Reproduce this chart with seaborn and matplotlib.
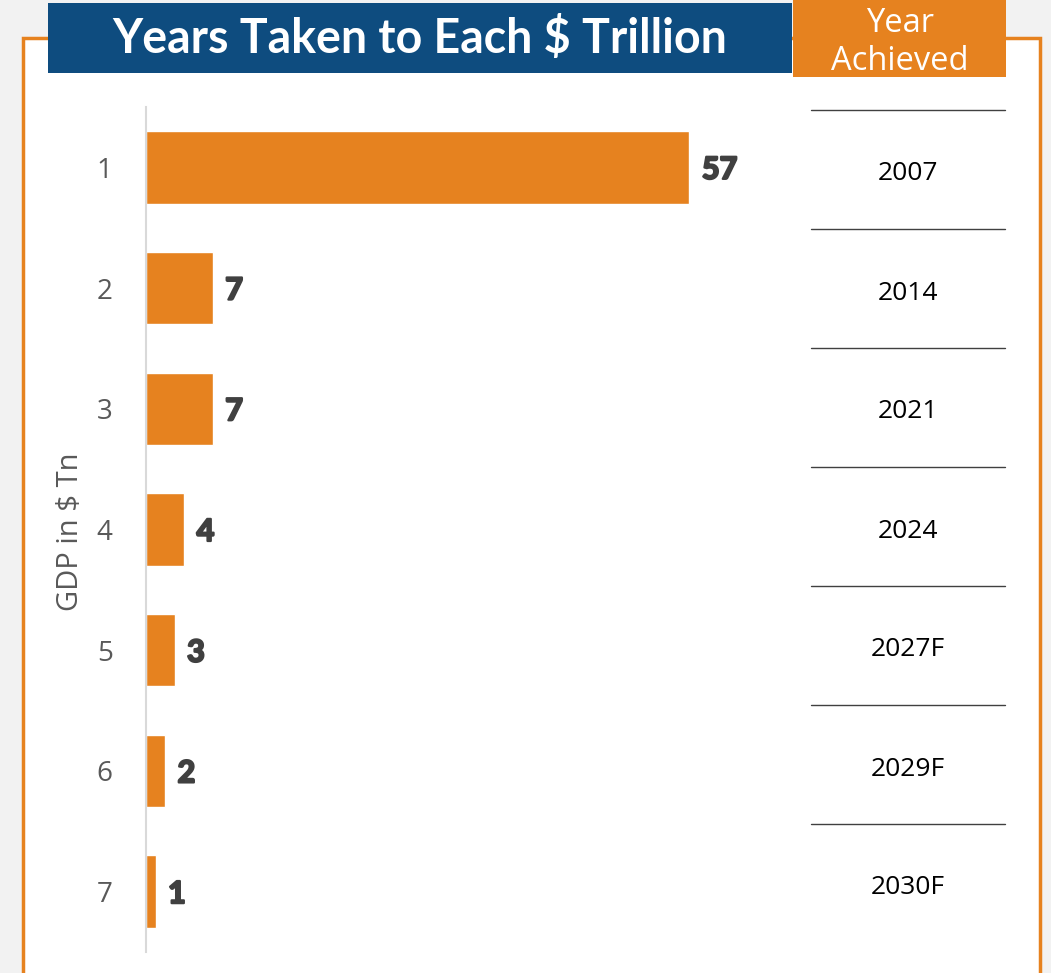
import pandas as pd
import matplotlib.pyplot as plt
import matplotlib.patheffects as pe
from matplotlib.patches import Rectangle
from matplotlib.lines import Line2D
import seaborn as sns

# data
gdp_tn = ["1", "2", "3", "4", "5", "6", "7"]
years_taken = [57, 7, 7, 4, 3, 2, 1]
year_achieved = ["2007", "2014", "2021", "2024", "2027F", "2029F", "2030F"]

df = pd.DataFrame({"gdp": gdp_tn, "years": years_taken})

orange = "#E6821F"
blue = "#0E4C7F"
grey = "#595959"

sns.set_theme(style="white")
plt.rcParams['font.family'] = ['Open Sans', 'DejaVu Sans']

W, H = 1051, 973
fig = plt.figure(figsize=(W / 100, H / 100), dpi=100, facecolor="#f2f2f2")

# white panel with orange border
fig.patches.append(Rectangle((23 / W, -0.05), (1040 - 23) / W, 1 - 38 / H + 0.05,
                             transform=fig.transFigure, facecolor="white",
                             edgecolor=orange, lw=2.5, zorder=0))
# title box
fig.patches.append(Rectangle((48 / W, 1 - 73 / H), (792 - 48) / W, 70 / H,
                             transform=fig.transFigure, facecolor=blue,
                             edgecolor="none", zorder=1))
fig.text(420 / W, 1 - 39 / H, "Years Taken to Each $ Trillion", color="white",
         fontsize=33.5, fontweight="bold", family=["Lato", "DejaVu Sans"],
         ha="center", va="center", zorder=2)
# header box for the year column
fig.patches.append(Rectangle((793 / W, 1 - 77 / H), (1006 - 793) / W, 80 / H,
                             transform=fig.transFigure, facecolor=orange,
                             edgecolor="none", zorder=1))
fig.text(900 / W, 1 - 42 / H, "Year\nAchieved", color="white", fontsize=23.5,
         ha="center", va="center", linespacing=1.2, zorder=2)

ax = fig.add_axes([146 / W, 21 / H, 572 / W, 845 / H])
ax.set_zorder(3)
ax.set_facecolor("none")
sns.barplot(data=df, x="years", y="gdp", orient="h", color=orange,
            saturation=1, width=0.6, ax=ax)

# heavy value labels (stroke thickens the bold face)
for i, v in enumerate(years_taken):
    ax.annotate(str(v), xy=(v, i), xytext=(9, 0), textcoords="offset points",
                ha="left", va="center_baseline", fontsize=22, fontweight="bold",
                color="#404040", family=["Lato", "DejaVu Sans"],
                path_effects=[pe.withStroke(linewidth=1.6, foreground="#404040")])

ax.set_xlim(0, 60)
ax.set_ylim(6.5, -0.5)
ax.set_xticks([])
ax.set_xlabel("")
ax.set_ylabel("")
ax.tick_params(axis="y", length=0, pad=24, labelsize=20, labelcolor=grey)
for side in ["top", "right", "bottom"]:
    ax.spines[side].set_visible(False)
ax.spines["left"].set_color("#d9d9d9")
ax.spines["left"].set_linewidth(1.5)

fig.text(70 / W, 1 - 532 / H, "GDP in $ Tn", rotation=90, color=grey,
         fontsize=21, ha="center", va="center", zorder=4)

# year achieved column (table rows, 119 px apart)
for i, yr in enumerate(year_achieved):
    fig.text(908 / W, 1 - (171 + 119 * i) / H, yr, ha="center",
             va="center_baseline", fontsize=19, color="black", zorder=4)
    yl = 1 - (110 + 119 * i) / H
    fig.add_artist(Line2D([811 / W, 1005 / W], [yl, yl], transform=fig.transFigure,
                          color="#404040", lw=1, zorder=4))

fig.savefig("out.png", dpi=100, facecolor=fig.get_facecolor())
